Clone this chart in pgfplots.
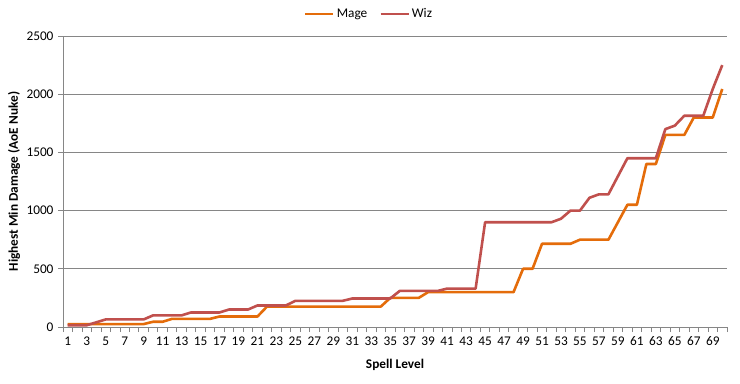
\documentclass[border=0pt]{standalone}
\usepackage{fontspec}
\setmainfont{Carlito}
\usepackage{pgfplots}
\usepackage{pgfplotstable}
\pgfplotsset{compat=1.18}
\definecolor{mage}{HTML}{E46C0A}
\definecolor{wiz}{HTML}{C0504D}
\definecolor{axgray}{HTML}{868686}
\pgfplotstableread{
lvl mage wiz
1 25 15
2 25 15
3 25 15
4 25 40
5 25 65
6 25 65
7 25 65
8 25 65
9 25 65
10 45 100
11 45 100
12 70 100
13 70 100
14 70 125
15 70 125
16 70 125
17 90 125
18 90 150
19 90 150
20 90 150
21 90 185
22 175 185
23 175 185
24 175 185
25 175 225
26 175 225
27 175 225
28 175 225
29 175 225
30 175 225
31 175 245
32 175 245
33 175 245
34 175 245
35 250 245
36 250 310
37 250 310
38 250 310
39 300 310
40 300 310
41 300 330
42 300 330
43 300 330
44 300 330
45 300 900
46 300 900
47 300 900
48 300 900
49 500 900
50 500 900
51 715 900
52 715 900
53 715 930
54 715 1000
55 750 1000
56 750 1110
57 750 1140
58 750 1140
59 900 1295
60 1050 1450
61 1050 1450
62 1400 1450
63 1400 1450
64 1650 1700
65 1650 1730
66 1650 1815
67 1800 1815
68 1800 1815
69 1800 2045
70 2045 2250
}\datatable
\begin{document}
\begin{tikzpicture}[font=\fontsize{13.3bp}{16bp}\selectfont]
\path (0,0) rectangle (740bp,384bp);
\begin{axis}[
  at={(63bp,57bp)}, anchor=south west,
  scale only axis, width=664bp, height=291bp,
  xmin=0.5, xmax=70.5, ymin=0, ymax=2500,
  axis lines=left,
  axis line style={draw=axgray, line width=0.8bp, -},
  xtick={1,3,...,69},
  minor xtick={0.5,1.5,...,70.5},
  ytick={0,500,...,2500},
  major x tick style={draw=none},
  minor x tick style={draw=axgray, line width=0.8bp},
  major y tick style={draw=axgray, line width=0.8bp},
  tick align=outside,
  major tick length=5bp, minor tick length=5bp,
  ymajorgrids, grid style={draw=axgray, line width=0.8bp},
  /pgf/number format/assume math mode=true,
  /pgf/number format/1000 sep={},
  xticklabel style={yshift=-1bp},
  yticklabel style={xshift=-1bp},
  xlabel={\bfseries Spell Level},
  ylabel={\bfseries Highest Min Damage (AoE Nuke)},
  xlabel style={at={(axis description cs:0.5,-0.1306)}, anchor=center},
  ylabel style={at={(axis description cs:-0.0738,0.5)}, anchor=center},
  legend columns=2,
  legend style={at={(0.461,1.076)}, anchor=center, draw=none, fill=none,
    font=\fontsize{13.3bp}{16bp}\selectfont,
    /tikz/every even column/.append style={column sep=10bp},
    inner sep=0pt},
  legend cell align=left,
  legend image code/.code={\draw[#1] (0bp,0bp) -- (28bp,0bp);},
  clip=false,
]
\addplot[mage, line width=2.6bp, line join=round] table[x=lvl, y=mage] {\datatable};
\addlegendentry{Mage}
\addplot[wiz, line width=2.6bp, line join=round] table[x=lvl, y=wiz] {\datatable};
\addlegendentry{Wiz}
\end{axis}
\end{tikzpicture}
\end{document}
